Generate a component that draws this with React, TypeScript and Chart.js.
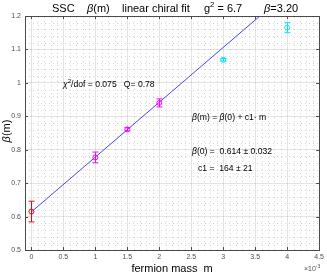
import React, { useEffect, useRef } from "react";
import { Chart, registerables } from "chart.js";

Chart.register(...registerables);

// ---- data ----
const massValues = [0, 0.001, 0.0015, 0.002, 0.003, 0.004];
const betaValues = [0.615, 0.777, 0.861, 0.94, 1.069, 1.165];
const betaErrors = [0.031, 0.016, 0.005, 0.012, 0.004, 0.015];
const pointColors = ["#ff0000", "#ff00ff", "#ff00ff", "#ff00ff", "#00e5ff", "#00e5ff"];
const fitB0 = 0.614;
const fitC1 = 164;
const fitRange = [0, 0.0045];
const xTickValues = [0, 0.0005, 0.001, 0.0015, 0.002, 0.0025, 0.003, 0.0035, 0.004, 0.0045];
const xTickLabels = ["0", "0.5", "1", "1.5", "2", "2.5", "3", "3.5", "4", "4.5"];
const yTickValues = [0.5, 0.6, 0.7, 0.8, 0.9, 1.0, 1.1, 1.2];
const yTickLabels = ["0.5", "0.6", "0.7", "0.8", "0.9", "1", "1.1", "1.2"];
const xMinorStep = 0.0001;
const yMinorStep = 0.02;

const FONT = "'Liberation Sans', Arial, Helvetica, sans-serif";

type Part = { t: string; it?: boolean; sup?: boolean };

function drawRich(ctx: CanvasRenderingContext2D, x: number, y: number, parts: Part[], size: number, color = "#000") {
  ctx.save();
  ctx.fillStyle = color;
  ctx.textBaseline = "alphabetic";
  ctx.textAlign = "left";
  let cx = x;
  for (const p of parts) {
    const s = p.sup ? size * 0.7 : size;
    ctx.font = `${p.it ? "italic " : ""}${s}px ${FONT}`;
    const dy = p.sup ? -size * 0.45 : 0;
    ctx.fillText(p.t, cx, y + dy);
    cx += ctx.measureText(p.t).width;
  }
  ctx.restore();
  return cx;
}

const decorPlugin = {
  id: "decor",
  beforeDatasetsDraw(chart: any) {
    const { ctx, chartArea: a, scales } = chart;
    const xs = scales.x, ys = scales.y;
    ctx.save();
    ctx.beginPath();
    ctx.rect(a.left, a.top, a.right - a.left, a.bottom - a.top);
    ctx.clip();
    ctx.strokeStyle = "rgba(0,0,0,0.16)";
    ctx.lineWidth = 1;
    ctx.setLineDash([1, 3]);
    for (let i = 0; ; i++) {
      const v = i * xMinorStep;
      if (v > xs.max + 1e-12) break;
      if (i % 5 === 0) continue;
      const px = Math.round(xs.getPixelForValue(v)) + 0.5;
      ctx.beginPath();
      ctx.moveTo(px, a.bottom);
      ctx.lineTo(px, a.top);
      ctx.stroke();
    }
    for (let i = 0; ; i++) {
      const v = ys.min + i * yMinorStep;
      if (v > ys.max + 1e-9) break;
      if (i % 5 === 0) continue;
      const py = Math.round(ys.getPixelForValue(v)) + 0.5;
      ctx.beginPath();
      ctx.moveTo(a.left, py);
      ctx.lineTo(a.right, py);
      ctx.stroke();
    }
    ctx.restore();
  },
  afterDatasetsDraw(chart: any) {
    const { ctx, scales } = chart;
    const xs = scales.x, ys = scales.y;
    ctx.save();
    ctx.lineWidth = 1;
    massValues.forEach((m, i) => {
      const px = Math.round(xs.getPixelForValue(m)) + 0.5;
      const top = ys.getPixelForValue(betaValues[i] + betaErrors[i]);
      const bot = ys.getPixelForValue(betaValues[i] - betaErrors[i]);
      ctx.strokeStyle = pointColors[i];
      ctx.beginPath();
      ctx.moveTo(px, top);
      ctx.lineTo(px, bot);
      ctx.moveTo(px - 3, top);
      ctx.lineTo(px + 3, top);
      ctx.moveTo(px - 3, bot);
      ctx.lineTo(px + 3, bot);
      ctx.stroke();
    });
    ctx.restore();
  },
  afterDraw(chart: any) {
    const { ctx, chartArea: a, scales } = chart;
    const xs = scales.x, ys = scales.y;
    ctx.save();
    ctx.strokeStyle = "#4a4a4a";
    ctx.lineWidth = 1;
    ctx.strokeRect(Math.round(a.left) + 0.5, Math.round(a.top) + 0.5, Math.round(a.right - a.left), Math.round(a.bottom - a.top));
    ctx.beginPath();
    xTickValues.forEach((v) => {
      const px = Math.round(xs.getPixelForValue(v)) + 0.5;
      ctx.moveTo(px, a.bottom);
      ctx.lineTo(px, a.bottom - 3);
      ctx.moveTo(px, a.top);
      ctx.lineTo(px, a.top + 3);
    });
    yTickValues.forEach((v) => {
      const py = Math.round(ys.getPixelForValue(v)) + 0.5;
      ctx.moveTo(a.left, py);
      ctx.lineTo(a.left + 3, py);
      ctx.moveTo(a.right, py);
      ctx.lineTo(a.right - 3, py);
    });
    ctx.stroke();
    ctx.restore();

    // title
    const tY = 12;
    drawRich(ctx, 52, tY, [{ t: "SSC" }], 11);
    drawRich(ctx, 87, tY, [{ t: "β", it: true }, { t: "(m)" }], 11);
    drawRich(ctx, 122, tY, [{ t: "linear chiral fit" }], 11);
    drawRich(ctx, 204, tY, [{ t: "g" }, { t: "2", sup: true }, { t: " = 6.7" }], 11);
    drawRich(ctx, 264, tY, [{ t: "β", it: true }, { t: "=3.20" }], 11);

    // annotations
    const fs = 8.6;
    drawRich(ctx, 63, 87, [{ t: "χ", it: true }, { t: "2", sup: true }, { t: "/dof = 0.075   Q= 0.78" }], fs);
    drawRich(ctx, 192, 120, [{ t: "β", it: true }, { t: "(m) = " }, { t: "β", it: true }, { t: "(0) + c1· m" }], fs);
    drawRich(ctx, 192, 154, [{ t: "β", it: true }, { t: "(0) =  0.614 ± 0.032" }], fs);
    drawRich(ctx, 198, 171, [{ t: "c1 =  164 ± 21" }], fs);

    // axis titles
    ctx.save();
    ctx.fillStyle = "#000";
    ctx.font = `11px ${FONT}`;
    ctx.textAlign = "center";
    ctx.textBaseline = "middle";
    ctx.fillText("fermion mass  m", (a.left + a.right) / 2, 269);
    ctx.restore();

    ctx.save();
    ctx.font = `italic 11px ${FONT}`;
    const w1 = ctx.measureText("β").width;
    ctx.font = `11px ${FONT}`;
    const w2 = ctx.measureText("(m)").width;
    ctx.translate(10, (a.top + a.bottom) / 2 - 2);
    ctx.rotate(-Math.PI / 2);
    drawRich(ctx, -(w1 + w2) / 2, 0, [{ t: "β", it: true }, { t: "(m)" }], 11);
    ctx.restore();

    drawRich(ctx, 304, 271, [{ t: "×10" }, { t: "-3", sup: true }], 7, "#4d4d4d");
  },
};

export default function App() {
  const ref = useRef<HTMLCanvasElement | null>(null);
  useEffect(() => {
    document.body.style.margin = "0";
    if (!ref.current) return;
    const chart = new Chart(ref.current, {
      type: "scatter",
      data: {
        datasets: [
          {
            type: "line",
            order: 2,
            data: fitRange.map((m) => ({ x: m, y: fitB0 + fitC1 * m })),
            borderColor: "rgb(70,70,255)",
            borderWidth: 1,
            pointRadius: 0,
            fill: false,
          } as any,
          {
            order: 1,
            data: massValues.map((m, i) => ({ x: m, y: betaValues[i] })),
            pointRadius: 2.5,
            pointBorderWidth: 1,
            pointBackgroundColor: "rgba(0,0,0,0)",
            pointBorderColor: pointColors,
            pointStyle: "circle",
          },
        ],
      },
      options: {
        responsive: false,
        animation: false,
        events: [],
        layout: { padding: { top: 16, right: 7, left: 0, bottom: 0 } },
        plugins: { legend: { display: false }, tooltip: { enabled: false }, title: { display: false } },
        scales: {
          x: {
            type: "linear",
            min: -0.0001,
            max: 0.0045,
            afterFit: (s: any) => { s.height = 24; },
            afterBuildTicks: (s: any) => { s.ticks = xTickValues.map((v) => ({ value: v })); },
            ticks: {
              autoSkip: false,
              maxRotation: 0,
              padding: 3,
              color: "#4d4d4d",
              font: { family: FONT, size: 7 },
              callback: (_v: any, i: number) => xTickLabels[i],
            },
            grid: { color: "rgba(0,0,0,0.11)", drawTicks: false },
            border: { display: false },
          },
          y: {
            type: "linear",
            min: 0.5,
            max: 1.2,
            afterFit: (s: any) => { s.width = 25; },
            afterBuildTicks: (s: any) => { s.ticks = yTickValues.map((v) => ({ value: v })); },
            ticks: {
              autoSkip: false,
              padding: 4,
              color: "#4d4d4d",
              font: { family: FONT, size: 7 },
              callback: (_v: any, i: number) => yTickLabels[i],
            },
            grid: { color: "rgba(0,0,0,0.11)", drawTicks: false },
            border: { display: false },
          },
        },
      },
      plugins: [decorPlugin],
    });
    return () => chart.destroy();
  }, []);
  return <canvas ref={ref} width={327} height={274} style={{ display: "block" }} />;
}
